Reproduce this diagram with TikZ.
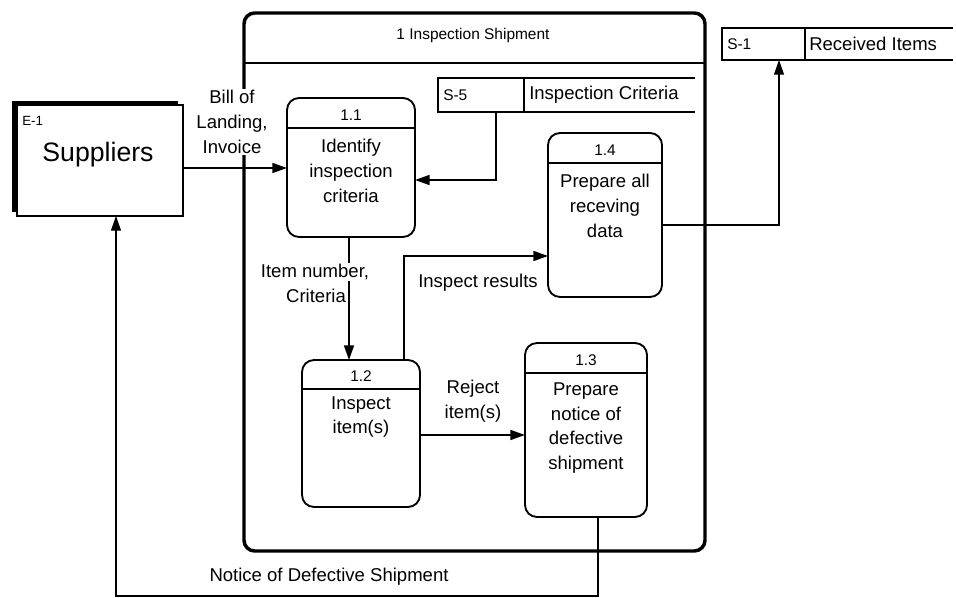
\documentclass[tikz,border=0pt]{standalone}
\usepackage{fontspec}
\setmainfont{Liberation Sans}
\usetikzlibrary{arrows.meta,shadows}
\newcommand\dfdlab{\fontsize{13.9}{18.5}\selectfont}
\newcommand\dfdsmall{\fontsize{11.6}{14}\selectfont}
\newcommand\dfdbig{\fontsize{20}{24}\selectfont}
\newcommand\dfdtiny{\fontsize{10}{12}\selectfont}

\tikzset{
  fixedbox/.style={inner sep=0pt, outer sep=0pt},
  dfdframe/.style={draw, line width=2.6pt, rounded corners=8pt},
  proc/.style={draw, line width=1.4pt, rounded corners=9pt},
  hdr/.style={line width=1.1pt},
  store/.style={line width=1.3pt},
  flow/.style={line width=1.2pt, -{Triangle[length=11pt,width=7.5pt]}},
  thinflow/.style={line width=0.8pt, -{Triangle[length=11pt,width=7.5pt]}},
  lab/.style={font=\dfdlab, align=center, inner sep=1pt},
  num/.style={font=\dfdsmall, inner sep=0pt},
}

\begin{document}
\begin{tikzpicture}[x=0.75pt,y=-0.75pt]
\useasboundingbox (0,0) rectangle (956,598);
\fill[white] (0,0) rectangle (956,598);

% process group frame with its title band
\node[dfdframe, fixedbox, minimum width=345.75pt, minimum height=403.5pt] (grp) at (474.5,282) {};
\draw[line width=1.6pt] (grp.west |- 0,63) -- (grp.east |- 0,63);
\node[font=\dfdsmall] (grptitle) at (473,36) {1 Inspection Shipment};

% external entity
\node[draw, line width=1.1pt, fill=white, fixedbox, minimum width=124.5pt, minimum height=83.25pt,
      drop shadow={shadow xshift=-3.75pt, shadow yshift=3pt, fill=black, opacity=1}] (sup) at (100,160.5) {};
\node[font=\dfdtiny, anchor=west, inner sep=0pt] (e1) at (22,121) {E-1};
\node[font=\dfdbig] (supname) at (98,155) {Suppliers};

% processes
\node[proc, fixedbox, minimum width=96pt, minimum height=104.25pt] (p11) at (351,167.5) {};
\draw[hdr] (p11.west |- 0,128) -- (p11.east |- 0,128);
\node[num] (p11n) at (351,115) {1.1};
\node[lab, inner sep=0pt] (p11t) at (351,171) {Identify\\inspection\\criteria};

\node[proc, fixedbox, minimum width=85.5pt, minimum height=123pt] (p14) at (605,215) {};
\draw[hdr] (p14.west |- 0,163) -- (p14.east |- 0,163);
\node[num] (p14n) at (605,150) {1.4};
\node[lab, inner sep=0pt] (p14t) at (605,206) {Prepare all\\receving\\data};

\node[proc, fixedbox, minimum width=88.5pt, minimum height=110.25pt] (p12) at (361,433.5) {};
\draw[hdr] (p12.west |- 0,389) -- (p12.east |- 0,389);
\node[num] (p12n) at (361,376) {1.2};
\node[lab, inner sep=0pt] (p12t) at (361,417) {Inspect\\item(s)};

\node[proc, fixedbox, minimum width=91.5pt, minimum height=130.5pt] (p13) at (586,430) {};
\draw[hdr] (p13.west |- 0,373) -- (p13.east |- 0,373);
\node[num] (p13n) at (586,360) {1.3};
\node[lab, inner sep=0pt] (p13t) at (586,428) {Prepare\\notice of\\defective\\shipment};

% data stores (open on the right)
\node[fixedbox, minimum width=192.75pt, minimum height=25.5pt] (s5) at (566.5,95) {};
\draw[store] (s5.north east) -- (s5.north west) -- (s5.south west) -- (s5.south east);
\draw[store] (s5.north -| 524,0) -- (s5.south -| 524,0);
\node[font=\dfdsmall, anchor=west, inner sep=0pt] (s5id) at (443,95) {S-5};
\node[font=\dfdlab, anchor=west, inner sep=0pt] (s5name) at (529,95) {Inspection Criteria};

\node[fixedbox, minimum width=173.25pt, minimum height=24pt] (s1) at (837.5,44) {};
\draw[store] (s1.north east) -- (s1.north west) -- (s1.south west) -- (s1.south east);
\draw[line width=2.2pt] (s1.north west) -- (s1.south west);
\draw[store] (s1.north -| 805,0) -- (s1.south -| 805,0);
\node[font=\dfdsmall, anchor=west, inner sep=0pt] (s1id) at (727,44) {S-1};
\node[font=\dfdlab, anchor=west, inner sep=0pt] (s1name) at (809,44) {Received Items};

% data flows
\draw[flow] (sup.east |- 0,168) -- (p11.west |- 0,168);
\node[lab, fill=white] (billlab) at (232,122) {Bill of\\Landing,\\Invoice};

\draw[flow] (s5.south -| 496,0) |- (p11.east |- 0,180);

\draw[flow] (p11.south -| 349,0) -- (p12.north -| 349,0);
\node[lab, fill=white] (itemlab) at (315,272) {Item number,};
\node[lab] (critlab) at (316,296) {Criteria};

\draw[flow] (p12.north -| 404,0) |- (p14.west |- 0,256);
\node[lab] (insplab) at (478,283) {Inspect results};

\draw[flow] (p12.east |- 0,435) -- (p13.west |- 0,435);
\node[lab] (rejlab) at (473,401) {Reject\\item(s)};

\draw[thinflow] (p14.east |- 0,225) -| (s1.south -| 779,0);

\coordinate (nbr) at (598,596);
\coordinate (nbl) at (116,596);
\draw[thinflow] (p13.south -| 598,0) -- (nbr) -- (nbl) -- (sup.south -| 116,0);
\node[lab] (noticelab) at (329,577) {Notice of Defective Shipment};
\end{tikzpicture}
\end{document}
